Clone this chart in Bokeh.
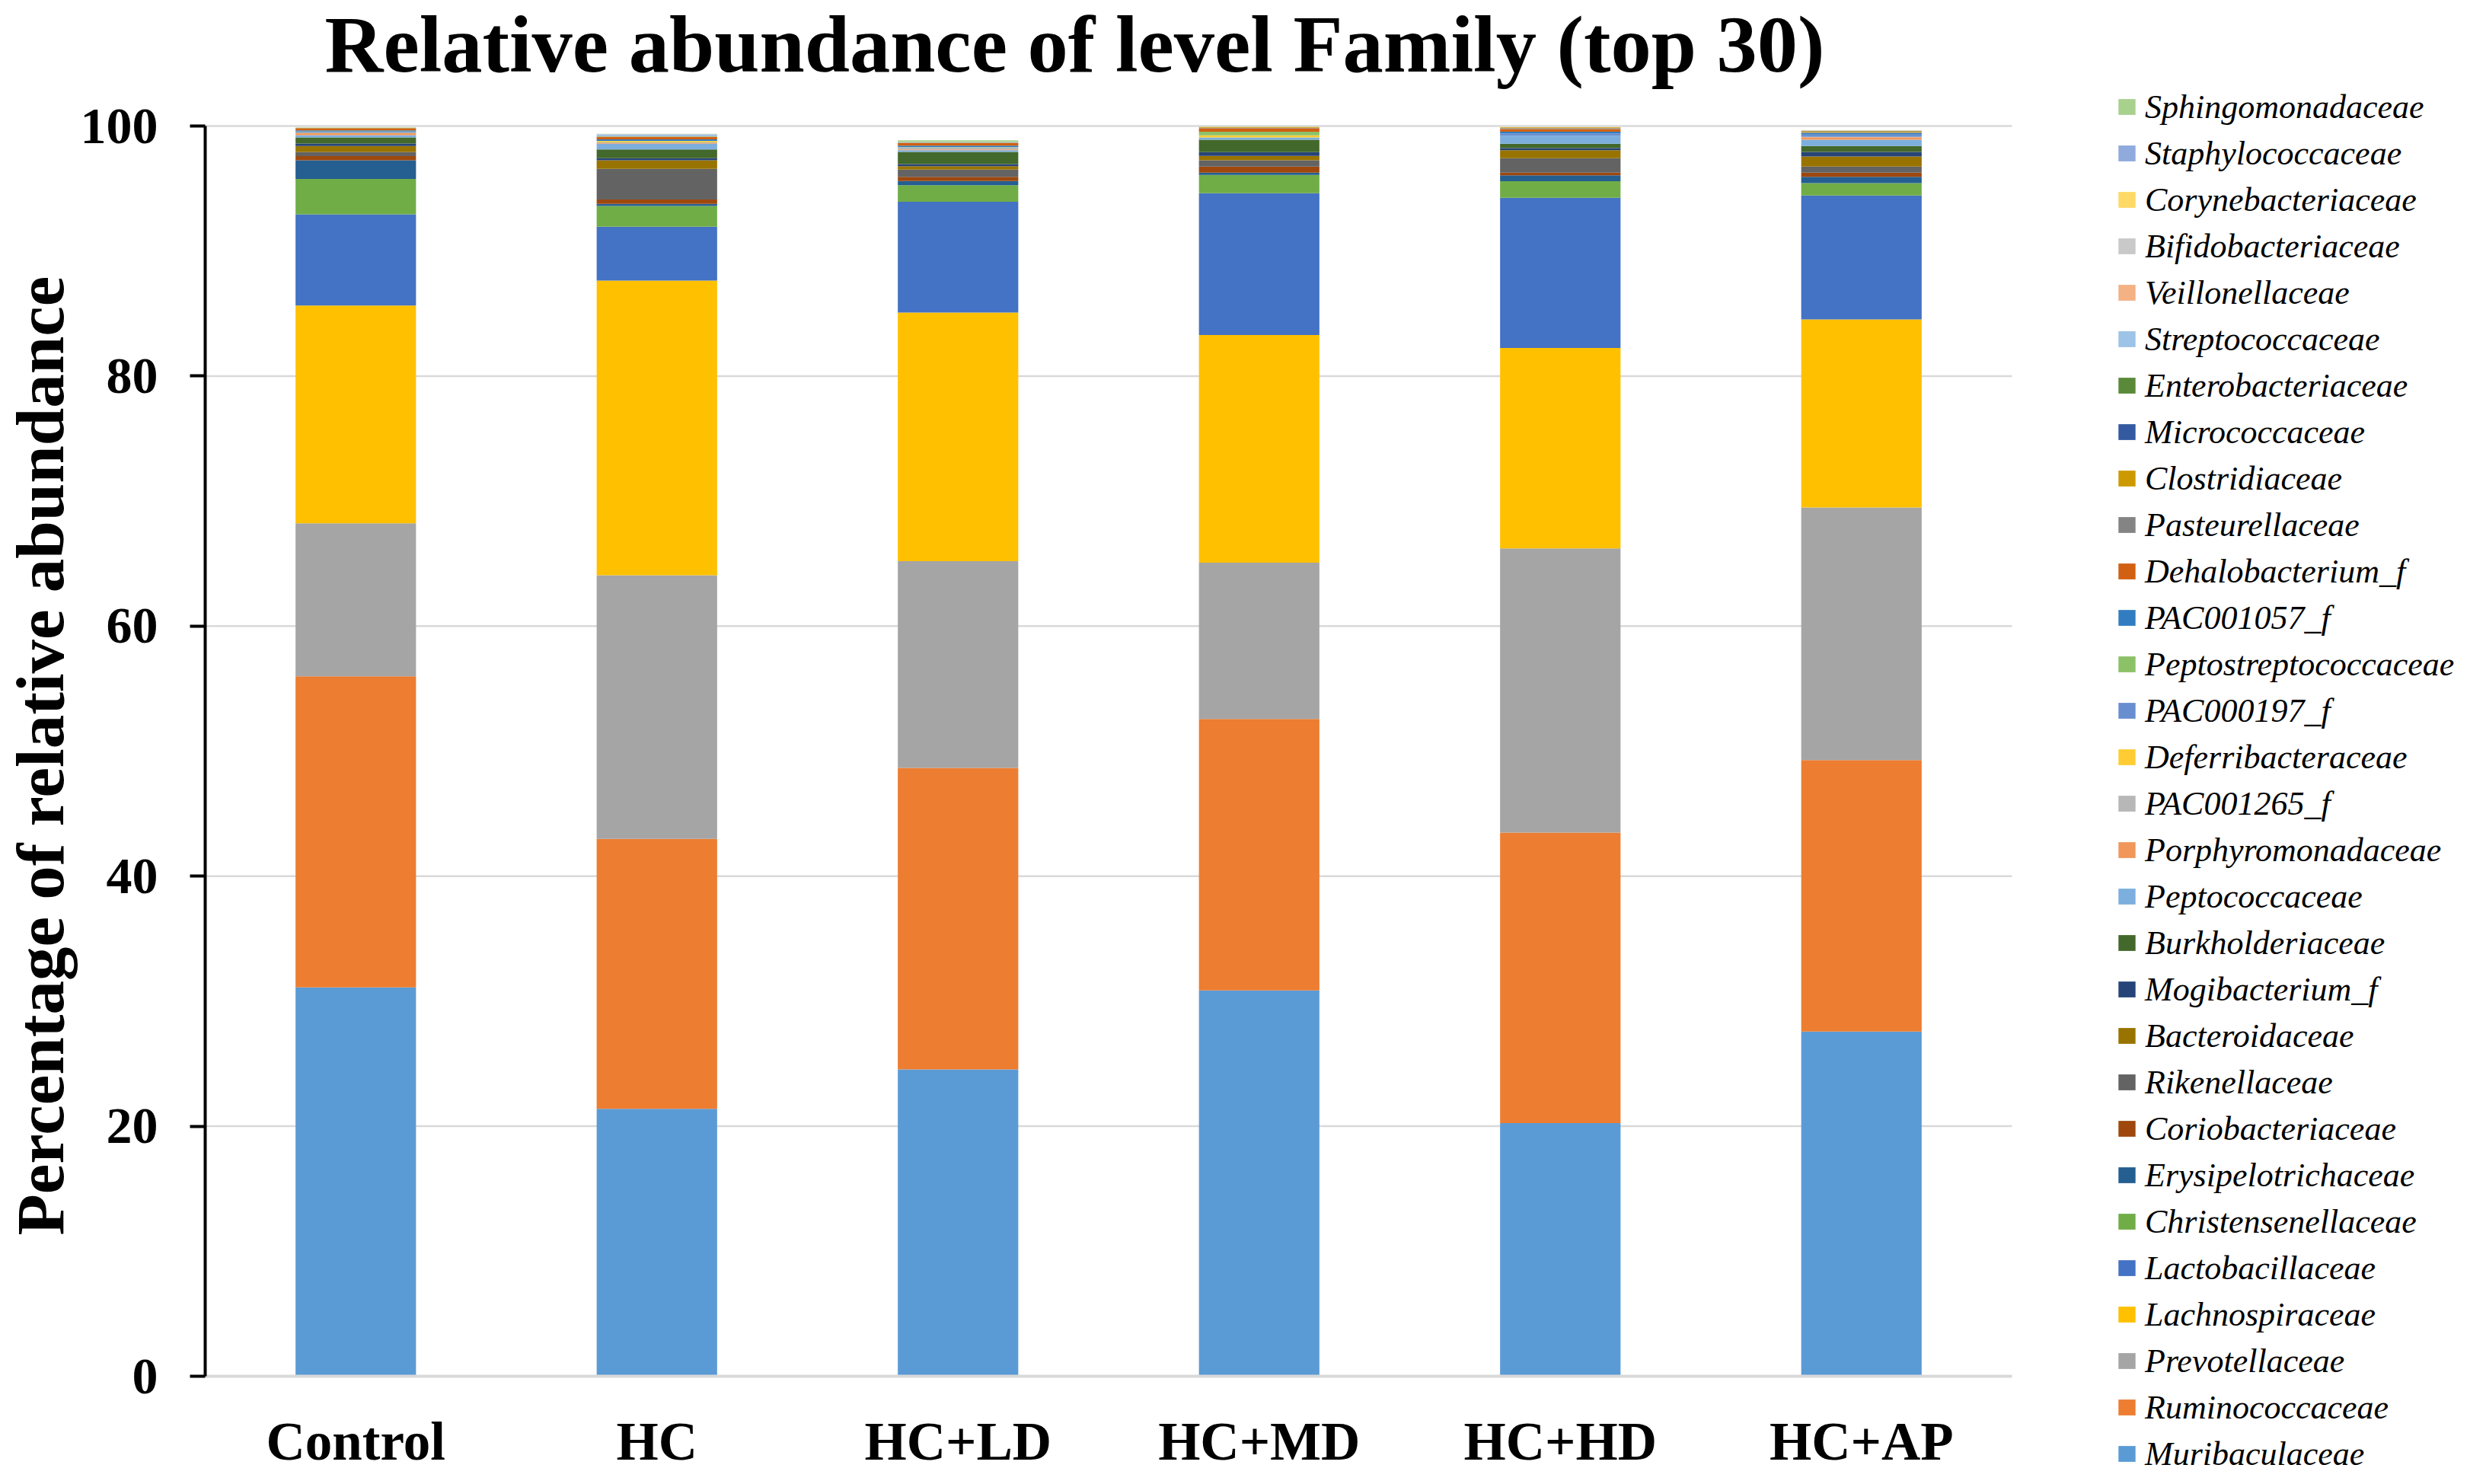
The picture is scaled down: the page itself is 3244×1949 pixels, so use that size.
from bokeh.plotting import figure
from bokeh.models import (ColumnDataSource, Legend, LegendItem, FixedTicker,
                          Range1d, Label, Title)
from bokeh.embed import file_html
from bokeh.resources import INLINE

groups = ["Control", "HC", "HC+LD", "HC+MD", "HC+HD", "HC+AP"]
title_text = "Relative abundance of level Family (top 30)"
y_label = "Percentage of relative abundance"

# stacking order: bottom -> top
families = [
    "Muribaculaceae", "Ruminococcaceae", "Prevotellaceae", "Lachnospiraceae",
    "Lactobacillaceae", "Christensenellaceae", "Erysipelotrichaceae",
    "Coriobacteriaceae", "Rikenellaceae", "Bacteroidaceae", "Mogibacterium_f",
    "Burkholderiaceae", "Peptococcaceae", "Porphyromonadaceae", "PAC001265_f",
    "Deferribacteraceae", "PAC000197_f", "Peptostreptococcaceae", "PAC001057_f",
    "Dehalobacterium_f", "Pasteurellaceae", "Clostridiaceae", "Micrococcaceae",
    "Enterobacteriaceae", "Streptococcaceae", "Veillonellaceae",
    "Bifidobacteriaceae", "Corynebacteriaceae", "Staphylococcaceae",
    "Sphingomonadaceae",
]

colors = [
    "#5B9BD5", "#ED7D31", "#A5A5A5", "#FFC000", "#4472C4", "#70AD47", "#255E91",
    "#9E480E", "#636363", "#997300", "#264478", "#43682B", "#7CAFDD", "#F1975A",
    "#B7B7B7", "#FFCD33", "#698ED0", "#8CC168", "#327DC2", "#D26012", "#848484",
    "#CC9A00", "#335AA1", "#5A8A39", "#9DC3E6", "#F4B183", "#C9C9C9", "#FFD966",
    "#8FAADC", "#A9D18E",
]

# values (%) per family, in the order of groups
Muribaculaceae        = [31.11, 21.39, 24.55, 30.86, 20.25, 27.58]
Ruminococcaceae       = [24.87, 21.59, 24.11, 21.72, 23.23, 21.71]
Prevotellaceae        = [12.25, 21.09, 16.54, 12.50, 22.73, 20.20]
Lachnospiraceae       = [17.42, 23.57, 19.88, 18.20, 16.03, 15.04]
Lactobacillaceae      = [7.29, 4.30, 8.86, 11.34, 12.02, 9.92]
Christensenellaceae   = [2.82, 1.67, 1.32, 1.46, 1.32, 0.99]
Erysipelotrichaceae   = [1.50, 0.16, 0.34, 0.19, 0.48, 0.50]
Coriobacteriaceae     = [0.33, 0.35, 0.34, 0.48, 0.21, 0.33]
Rikenellaceae         = [0.32, 2.45, 0.57, 0.51, 1.15, 0.48]
Bacteroidaceae        = [0.49, 0.69, 0.27, 0.35, 0.65, 0.82]
Mogibacterium_f       = [0.20, 0.16, 0.18, 0.30, 0.17, 0.36]
Burkholderiaceae      = [0.49, 0.70, 0.97, 1.00, 0.34, 0.47]
Peptococcaceae        = [0.18, 0.46, 0.14, 0.18, 0.65, 0.51]
Porphyromonadaceae    = [0.16, 0.05, 0.06, 0.00, 0.00, 0.19]
PAC001265_f           = [0.02, 0.06, 0.15, 0.00, 0.00, 0.02]
Deferribacteraceae    = [0.02, 0.10, 0.01, 0.16, 0.00, 0.01]
PAC000197_f           = [0.08, 0.01, 0.01, 0.00, 0.18, 0.17]
Peptostreptococcaceae = [0.02, 0.01, 0.01, 0.30, 0.00, 0.01]
PAC001057_f           = [0.08, 0.12, 0.12, 0.00, 0.14, 0.14]
Dehalobacterium_f     = [0.16, 0.18, 0.20, 0.27, 0.21, 0.02]
Pasteurellaceae       = [0.01, 0.01, 0.01, 0.04, 0.08, 0.03]
Clostridiaceae        = [0.01, 0.02, 0.01, 0.06, 0.06, 0.09]
Micrococcaceae        = [0.01, 0.01, 0.01, 0.00, 0.00, 0.01]
Enterobacteriaceae    = [0.01, 0.01, 0.01, 0.00, 0.00, 0.01]
Streptococcaceae      = [0.01, 0.16, 0.01, 0.00, 0.00, 0.01]
Veillonellaceae       = [0.01, 0.01, 0.01, 0.00, 0.00, 0.01]
Bifidobacteriaceae    = [0.01, 0.01, 0.01, 0.00, 0.00, 0.01]
Corynebacteriaceae    = [0.01, 0.01, 0.01, 0.00, 0.00, 0.01]
Staphylococcaceae     = [0.01, 0.01, 0.01, 0.00, 0.00, 0.01]
Sphingomonadaceae     = [0.01, 0.01, 0.14, 0.00, 0.00, 0.01]

values = [
    Muribaculaceae, Ruminococcaceae, Prevotellaceae, Lachnospiraceae,
    Lactobacillaceae, Christensenellaceae, Erysipelotrichaceae,
    Coriobacteriaceae, Rikenellaceae, Bacteroidaceae, Mogibacterium_f,
    Burkholderiaceae, Peptococcaceae, Porphyromonadaceae, PAC001265_f,
    Deferribacteraceae, PAC000197_f, Peptostreptococcaceae, PAC001057_f,
    Dehalobacterium_f, Pasteurellaceae, Clostridiaceae, Micrococcaceae,
    Enterobacteriaceae, Streptococcaceae, Veillonellaceae,
    Bifidobacteriaceae, Corynebacteriaceae, Staphylococcaceae,
    Sphingomonadaceae,
]

y_ticks = [0, 20, 40, 60, 80, 100]
grid_ticks = [20, 40, 60, 80, 100]

# ---- layout (pixels) ----
W, H = 3226, 1933
LEFT = 269                          # frame left (y axis position)
PLOT_TOP, PLOT_BOTTOM = 165, 1807   # pixel rows of y = 100 and y = 0
CAT_PX = 395.5                      # width of one category slot

n = len(groups)
xpos = list(range(n))
px_per_unit = (PLOT_BOTTOM - PLOT_TOP) / 100.0
y_start = -(H - PLOT_BOTTOM) / px_per_unit
y_end = 100 + PLOT_TOP / px_per_unit
x_start = -0.5
x_end = x_start + (W - LEFT) / CAT_PX

data = {"x": xpos, "group": groups}
for fam, vals in zip(families, values):
    data[fam] = vals
source = ColumnDataSource(data)

SERIF = "Liberation Serif"

p = figure(
    x_range=Range1d(x_start, x_end), y_range=Range1d(y_start, y_end),
    width=W, height=H,
    min_border_left=LEFT, min_border_right=0,
    min_border_top=0, min_border_bottom=0,
    output_backend="svg", toolbar_location=None,
)

# horizontal grid lines limited to the category area
p.segment(x0=x_start, x1=n - 0.5, y0=grid_ticks, y1=grid_ticks,
          line_color="#D9D9D9", line_width=2.5, level="underlay")

renderers = p.vbar_stack(families, x="x", width=0.40, color=colors,
                         line_color=None, source=source)

p.xgrid.grid_line_color = None
p.ygrid.grid_line_color = None
p.outline_line_color = None

# y axis
p.yaxis.bounds = (0, 100)
p.yaxis.ticker = FixedTicker(ticks=y_ticks)
p.yaxis.minor_tick_line_color = None
p.yaxis.axis_line_color = "black"
p.yaxis.axis_line_width = 4
p.yaxis.major_tick_line_color = "black"
p.yaxis.major_tick_line_width = 4
p.yaxis.major_tick_out = 20
p.yaxis.major_tick_in = 0
p.yaxis.major_label_standoff = 42
p.yaxis.major_label_text_font = SERIF
p.yaxis.major_label_text_font_style = "bold"
p.yaxis.major_label_text_font_size = "68px"
p.yaxis.major_label_text_color = "black"

# y axis title, placed along the 0..100 part of the axis
ytitle = Title(
    text=y_label, align="left", offset=311, vertical_align="bottom",
    standoff=2, text_font=SERIF, text_font_style="bold",
    text_font_size="89px", text_color="black",
)
p.add_layout(ytitle, "left")

# x axis drawn at y = 0
p.xaxis.fixed_location = 0
p.xaxis.bounds = (x_start, n - 0.5)
p.xaxis.ticker = FixedTicker(ticks=xpos)
p.xaxis.major_label_overrides = {i: g for i, g in zip(xpos, groups)}
p.xaxis.axis_line_color = "#D9D9D9"
p.xaxis.axis_line_width = 4
p.xaxis.major_tick_line_color = None
p.xaxis.major_tick_out = 0
p.xaxis.major_tick_in = 0
p.xaxis.minor_tick_line_color = None
p.xaxis.major_label_standoff = 46
p.xaxis.major_label_text_font = SERIF
p.xaxis.major_label_text_font_style = "bold"
p.xaxis.major_label_text_font_size = "71px"
p.xaxis.major_label_text_color = "black"

# chart title
title = Label(
    x=157, y=H - 57, x_units="screen", y_units="screen",
    text=title_text, text_font=SERIF, text_font_style="bold",
    text_font_size="106.5px", text_color="black",
    text_align="left", text_baseline="middle",
)
p.add_layout(title)

# legend (top of stack listed first)
items = [LegendItem(label=fam, renderers=[r])
         for fam, r in zip(families[::-1], renderers[::-1])]
legend = Legend(
    items=items, location=(2510, -4), orientation="vertical",
    glyph_width=28, glyph_height=26, label_height=56, spacing=5,
    label_standoff=10, padding=0, margin=0,
    label_text_font=SERIF, label_text_font_style="italic",
    label_text_font_size="44px", label_text_color="black",
    border_line_color=None, background_fill_alpha=0,
)
p.add_layout(legend)

open("out.html", "w").write(file_html(p, INLINE))
